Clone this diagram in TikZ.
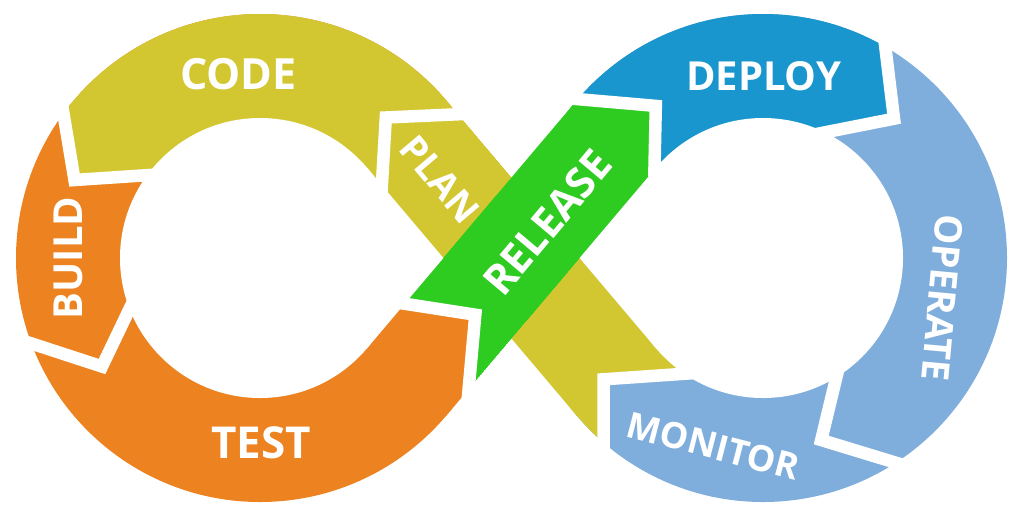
\documentclass[tikz,border=0pt]{standalone}
\usepackage{fontspec}
\setmainfont{Open Sans}
\definecolor{cyel}{HTML}{D2C730}
\definecolor{corg}{HTML}{EC8220}
\definecolor{cgrn}{HTML}{2ECC20}
\definecolor{cblu}{HTML}{1896CD}
\definecolor{clbl}{HTML}{7FAEDC}
\begin{document}
\begin{tikzpicture}[x=1pt,y=-1pt,
  lbl/.style={text=white,inner sep=0pt,font=\bfseries},
  cut/.style={draw=white,line width=12.5pt,line join=miter},
  hole/.style={fill=white}]
\path[use as bounding box] (0,0) rectangle (1024,512);
\coordinate (L) at (260,258);
\coordinate (R) at (763,258);
% base rings
\fill[corg] (L) circle[radius=244pt];
\fill[clbl] (R) circle[radius=244pt];
% CODE (yellow, top of left ring)
\begin{scope}
\clip (45,-10)--(57.5,78)--(74.5,180)--(165,174)--(260,258)--(520,258)--(520,-10)--cycle;
\fill[cyel] (L) circle[radius=244pt];
\end{scope}
% DEPLOY (blue, top of right ring)
\begin{scope}
\clip (540,-10)--(560,97.6)--(655.8,105.9)--(654,190)--(763,258)--(810,135.3)--(894,118.7)--(882,20)--(879,-10)--cycle;
\fill[cblu] (R) circle[radius=244pt];
\end{scope}
% TEST end reaching into the green band
\begin{scope}
\clip (380,300.5)--(475.3,314.7)--(465.4,425)--(340,425)--(340,300.5)--cycle;
\fill[corg] (366.9,348.4)--(446.3,415.6)--(656.1,167.6)--(576.7,100.4)--cycle;
\end{scope}
% PLAN band (yellow)
\begin{scope}
\clip (457.8,113.9)--(385.8,117.5)--(381,200)--(407,215)--(603,446.7)--(603.5,379.3)--(710,372)--(640.5,330)--cycle;
\fill[cyel] (L) circle[radius=244pt];
\fill[cyel] (R) circle[radius=244pt];
\fill[cyel] (446.3,100.4)--(656.1,348.4)--(576.7,415.6)--(366.9,167.6)--cycle;
\end{scope}
% RELEASE band (green, on top)
\begin{scope}
\clip (577.8,99.1)--(655.8,105.9)--(654,190)--(579.6,258)--(468.6,389.3)--(475.3,314.7)--(390,301.5)--(424.8,280)--cycle;
\fill[cgrn] (L) circle[radius=244pt];
\fill[cgrn] (R) circle[radius=244pt];
\fill[cgrn] (366.9,348.4)--(446.3,415.6)--(656.1,167.6)--(576.7,100.4)--cycle;
\end{scope}
% holes
\fill[hole] (L) circle[radius=140pt];
\fill[hole] (366.9,167.6)--(443.4,258)--(366.9,348.4)--cycle;
\fill[hole] (R) circle[radius=140pt];
\fill[hole] (656.1,167.6)--(579.6,258)--(656.1,348.4)--cycle;
% white cuts between segments
\draw[cut] (57.5,78)--(74.5,180)--(165,174);
\draw[cut] (5.5,335)--(102,366.5)--(140,287);
\draw[cut] (385,300.7)--(475.3,314.7)--(465.4,425);
\draw[cut] (560,97.6)--(655.8,105.9)--(654,190);
\draw[cut] (882,20)--(894,118.7)--(810,135.3);
\draw[cut] (915.8,468.8)--(821.2,440)--(841,358);
\draw[cut] (603.5,470)--(603.5,379.3)--(710,372);
\draw[cut] (475,113.5)--(385.8,117.5)--(381,200);
% labels
\node[lbl,font=\bfseries\fontsize{43}{43}\selectfont] (code) at (238.5,74.5) {CODE};
\node[lbl,font=\bfseries\fontsize{44}{44}\selectfont] (test) at (261,442.5) {TEST};
\node[lbl,font=\bfseries\fontsize{40}{40}\selectfont,rotate=90] (build) at (68,258) {BUILD};
\node[lbl,font=\bfseries\fontsize{37}{37}\selectfont,rotate=-49.8] (plan) at (440,179.5) {PLAN};
\node[lbl,font=\bfseries\fontsize{42}{42}\selectfont,rotate=50] (release) at (547.5,222.5) {RELEASE};
\node[lbl,font=\bfseries\fontsize{40}{40}\selectfont] (deploy) at (763.7,76) {DEPLOY};
\node[lbl,font=\bfseries\fontsize{38}{38}\selectfont,rotate=-95.3] (operate) at (942.5,297.8) {OPERATE};
\node[lbl,font=\bfseries\fontsize{36}{36}\selectfont,rotate=-14.5] (monitor) at (713.3,445.7) {MONITOR};
\end{tikzpicture}
\end{document}
